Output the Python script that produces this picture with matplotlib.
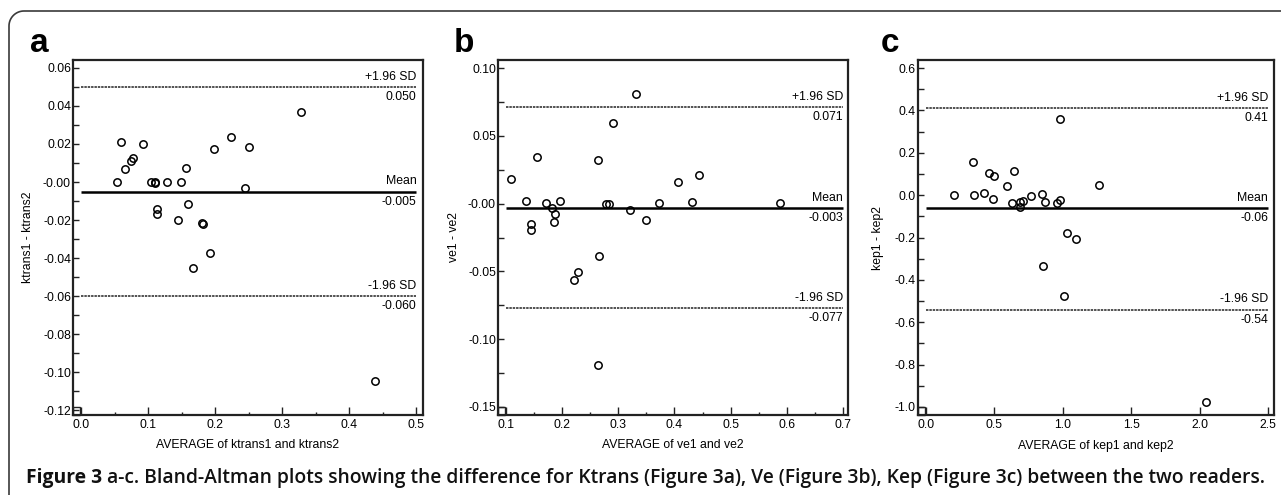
import numpy as np
import matplotlib
matplotlib.use('Agg')
import matplotlib.pyplot as plt
from matplotlib.lines import Line2D
from matplotlib.patches import Rectangle

# ---- data ----
ktrans_avg = [0.053, 0.059, 0.065, 0.074, 0.078, 0.092, 0.105, 0.110, 0.111, 0.128,
              0.149, 0.157, 0.113, 0.113, 0.144, 0.160, 0.180, 0.182, 0.199, 0.223,
              0.250, 0.244, 0.328, 0.167, 0.192, 0.438]
ktrans_diff = [0.000, 0.0212, 0.0069, 0.011, 0.0126, 0.0198, 0.000, 0.000, -0.0005, 0.000,
               0.000, 0.0074, -0.014, -0.017, -0.0198, -0.0115, -0.0216, -0.022, 0.0173, 0.0235,
               0.0182, -0.0032, 0.0368, -0.0451, -0.0375, -0.1048]

ve_avg = [0.108, 0.136, 0.145, 0.145, 0.156, 0.172, 0.182, 0.188, 0.185, 0.196,
          0.263, 0.278, 0.284, 0.2905, 0.320, 0.332, 0.349, 0.372, 0.407, 0.431,
          0.444, 0.588, 0.2205, 0.228, 0.266, 0.264]
ve_diff = [0.0184, 0.0017, -0.0147, -0.0192, 0.0344, 0.0005, -0.0032, -0.0076, -0.0138, 0.0017,
           0.0324, 0.000, 0.000, 0.0595, -0.0044, 0.0808, -0.0118, 0.0005, 0.016, 0.001,
           0.0214, 0.0005, -0.056, -0.0504, -0.0388, -0.1187]

kep_avg = [0.202, 0.341, 0.349, 0.424, 0.463, 0.498, 0.493, 0.593, 0.641, 0.632,
           0.685, 0.690, 0.712, 0.766, 0.846, 0.868, 0.954, 0.983, 0.978, 1.268,
           1.032, 1.100, 0.856, 1.007, 2.046]
kep_diff = [0.000, 0.158, 0.000, 0.008, 0.1035, 0.091, -0.019, 0.041, 0.1145, -0.039,
            -0.031, -0.058, -0.027, -0.003, 0.005, -0.0345, -0.039, -0.0235, 0.358, 0.047,
            -0.178, -0.207, -0.333, -0.474, -0.976]

means = [-0.005, -0.003, -0.06]
upper_sd = [0.050, 0.071, 0.41]
lower_sd = [-0.060, -0.077, -0.54]
mean_txt = ['-0.005', '-0.003', '-0.06']
upper_txt = ['0.050', '0.071', '0.41']
lower_txt = ['-0.060', '-0.077', '-0.54']

letters = ['a', 'b', 'c']
xlabels = ['AVERAGE of ktrans1 and ktrans2', 'AVERAGE of ve1 and ve2', 'AVERAGE of kep1 and kep2']
ylabels = ['ktrans1 - ktrans2', 've1 - ve2', 'kep1 - kep2']

xticks = [[0.0, 0.1, 0.2, 0.3, 0.4, 0.5],
          [0.1, 0.2, 0.3, 0.4, 0.5, 0.6, 0.7],
          [0.0, 0.5, 1.0, 1.5, 2.0, 2.5]]
xtick_labels = [['0.0', '0.1', '0.2', '0.3', '0.4', '0.5'],
                ['0.1', '0.2', '0.3', '0.4', '0.5', '0.6', '0.7'],
                ['0.0', '0.5', '1.0', '1.5', '2.0', '2.5']]
yticks = [[0.06, 0.04, 0.02, 0.0, -0.02, -0.04, -0.06, -0.08, -0.10, -0.12],
          [0.10, 0.05, 0.0, -0.05, -0.10, -0.15],
          [0.6, 0.4, 0.2, 0.0, -0.2, -0.4, -0.6, -0.8, -1.0]]
ytick_labels = [['0.06', '0.04', '0.02', '-0.00', '-0.02', '-0.04', '-0.06', '-0.08', '-0.10', '-0.12'],
                ['0.10', '0.05', '-0.00', '-0.05', '-0.10', '-0.15'],
                ['0.6', '0.4', '0.2', '0.0', '-0.2', '-0.4', '-0.6', '-0.8', '-1.0']]
xminor = [0.05, 0.05, None]
yminor = [0.01, 0.025, 0.1]
xlims = [(-0.012, 0.510), (0.0857, 0.709), (-0.0586, 2.544)]
ylims = [(-0.1226, 0.0642), (-0.1559, 0.1059), (-1.038, 0.638)]

caption_bold = 'Figure 3'
caption_rest = ' a-c. Bland-Altman plots showing the difference for Ktrans (Figure 3a), Ve (Figure 3b), Kep (Figure 3c) between the two readers.'

plt.rcParams['font.family'] = ['Liberation Sans', 'DejaVu Sans']


def plotGraphs():
  W, H = 1281, 495
  fig = plt.figure(figsize=(W/100., H/100.), dpi=100)

  # axes boxes in pixels: left, right
  boxes = [(73, 423), (498, 848), (918, 1274)]
  top, bot = 60, 415
  xs = [ktrans_avg, ve_avg, kep_avg]
  ys = [ktrans_diff, ve_diff, kep_diff]
  ylab_x = [34, 460, 884]
  letter_x = [30, 454, 881]

  for i in range(3):
    l, r = boxes[i]
    ax = fig.add_axes([l/W, (H-bot)/H, (r-l)/W, (bot-top)/H])
    ax.plot(xs[i], ys[i], 'o', mfc='none', mec='k', ms=5.3, mew=1.1, zorder=3)

    x0, x1 = xticks[i][0], xticks[i][-1]
    ax.hlines(means[i], x0, x1, colors='k', lw=1.8)
    ax.hlines([upper_sd[i], lower_sd[i]], x0, x1, colors='#222222', lw=1.1,
              linestyles=[(0, (1.6, 0.6))])
    fs = 8.8
    for yv, top_t, bot_t in [(upper_sd[i], '+1.96 SD', upper_txt[i]),
                             (means[i], 'Mean', mean_txt[i]),
                             (lower_sd[i], '-1.96 SD', lower_txt[i])]:
      ax.annotate(top_t, (x1, yv), xytext=(0, 3), textcoords='offset points',
                  ha='right', va='bottom', fontsize=fs)
      ax.annotate(bot_t, (x1, yv), xytext=(0, -3), textcoords='offset points',
                  ha='right', va='top', fontsize=fs)

    ax.set_xlim(xlims[i])
    ax.set_ylim(ylims[i])
    ax.set_xticks(xticks[i])
    ax.set_xticklabels(xtick_labels[i], fontsize=fs)
    ax.set_yticks(yticks[i])
    ax.set_yticklabels(ytick_labels[i], fontsize=fs)
    if xminor[i]:
      ax.set_xticks(np.arange(x0 + xminor[i], x1, xminor[i] * 2), minor=True)
    ax.set_yticks(np.arange(yticks[i][-1] + yminor[i], yticks[i][0], yminor[i] * 2), minor=True)
    ax.tick_params(which='both', direction='in', color='#222222', width=1.0)
    ax.tick_params(axis='x', which='major', length=5.5, pad=3)
    ax.tick_params(axis='x', which='minor', length=2.5)
    ax.tick_params(axis='y', which='major', length=4, pad=1.5)
    ax.tick_params(axis='y', which='minor', length=4)
    for s in ax.spines.values():
      s.set_linewidth(1.6)
      s.set_color('#222222')
    # little corner square
    ax.add_patch(Rectangle((0, 0), 7.0/(r-l), 8.0/(bot-top), transform=ax.transAxes,
                           fill=False, lw=1.0, ec='#222222', clip_on=False))

    ax.set_xlabel(xlabels[i], fontsize=fs, labelpad=6)
    ax.set_ylabel(ylabels[i], fontsize=fs)
    ax.yaxis.set_label_coords((ylab_x[i]-l)/(r-l), 0.5)

    fig.text(letter_x[i]/W, (H-52)/H, letters[i], fontsize=24, fontweight='bold',
             ha='left', va='baseline')

  # border with a rounded top-left corner
  rad = 15
  bx, by = 9, 11
  ang = np.linspace(np.pi, np.pi/2, 20)
  px = np.concatenate([[bx], bx + rad + rad*np.cos(ang), [W]])
  py = np.concatenate([[H], by + rad - rad*np.sin(ang), [by]])
  fig.add_artist(Line2D(px/W, 1 - py/H, transform=fig.transFigure, color='#3a3a3a', lw=1.2))

  # caption, scaled to its width in the picture
  cap_fam = ['Open Sans', 'Noto Sans', 'DejaVu Sans']
  renderer = fig.canvas.get_renderer()
  cfs = 12.0
  for k in range(3):
    t1 = fig.text(26/W, (H-483)/H, caption_bold, fontsize=cfs, fontweight='bold',
                  family=cap_fam, ha='left', va='baseline', color='#111111')
    w1 = t1.get_window_extent(renderer).width
    t2 = fig.text((26+w1)/W, (H-483)/H, caption_rest, fontsize=cfs, fontweight='semibold',
                  family=cap_fam, ha='left', va='baseline', color='#111111')
    w2 = t2.get_window_extent(renderer).width
    if k < 2:
      t1.remove()
      t2.remove()
      cfs = cfs * 1241.0 / (w1 + w2)

  fig.savefig('out.png', dpi=100)


if __name__ == "__main__":
  plotGraphs()
